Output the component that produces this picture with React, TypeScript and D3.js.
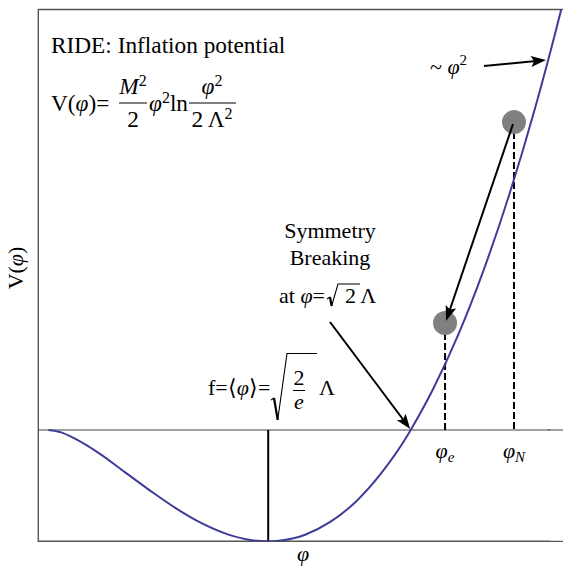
import React from "react";
import * as d3 from "d3";

// curve V(φ) (φ in units of Λ, V in units of M²Λ²)
const phiSamples = [0, 0.05, 0.1, 0.2, 0.3, 0.4, 0.5, 0.6, 0.7, 0.8, 0.858, 0.9, 1.0, 1.1, 1.2, 1.3, 1.4, 1.414, 1.5, 1.6, 1.7, 1.8, 1.9, 2.0, 2.05];
const vSamples = [0, -0.008, -0.027, -0.078, -0.14, -0.202, -0.26, -0.309, -0.345, -0.365, -0.368, -0.366, -0.347, -0.304, -0.237, -0.142, -0.02, 0, 0.133, 0.316, 0.532, 0.782, 1.066, 1.386, 1.56];

// field positions (balls)
const fieldNames = ["N", "e"];
const fieldPhi = [1.817, 1.548];
const fieldV = [1.018, 0.354];

// special points
const vacuumPhi = 0.858;
const vacuumV = -0.368;
const breakingPhi = 1.414;

const FONT = "Liberation Serif";
const FS = 22;
const FT = 23.3;

function Radical({ x, yTop, yBottom, yTick, w, barEnd }: { x: number; yTop: number; yBottom: number; yTick: number; w: number; barEnd: number }) {
  const xb = x + w * 0.42;
  return (
    <g fill="none" stroke="#000">
      <path d={`M${x},${yTick + 2} L${x + 3},${yTick}`} strokeWidth={1.1} />
      <path d={`M${x + 3},${yTick} L${xb},${yBottom}`} strokeWidth={2.2} />
      <path d={`M${xb},${yBottom} L${x + w},${yTop} L${barEnd},${yTop}`} strokeWidth={1.1} />
    </g>
  );
}

function arrowHead(x1: number, y1: number, x2: number, y2: number) {
  const a = Math.atan2(y2 - y1, x2 - x1);
  const c = Math.cos(a), s = Math.sin(a);
  const p = (dx: number, dy: number) => `${x2 + dx * c - dy * s},${y2 + dx * s + dy * c}`;
  return `M${p(0, 0)} L${p(-15, -5.5)} L${p(-12, 0)} L${p(-15, 5.5)} Z`;
}

function Arrow({ x1, y1, x2, y2 }: { x1: number; y1: number; x2: number; y2: number }) {
  const a = Math.atan2(y2 - y1, x2 - x1);
  return (
    <g>
      <line x1={x1} y1={y1} x2={x2 - 10 * Math.cos(a)} y2={y2 - 10 * Math.sin(a)} stroke="#000" strokeWidth={2} />
      <path d={arrowHead(x1, y1, x2, y2)} fill="#000" />
    </g>
  );
}

function T(props: any) {
  return <text fontFamily={FONT} fontSize={FS} fill="#000" {...props} />;
}

export default function App() {
  const W = 563;
  const H = 567;
  const x = d3.scaleLinear().domain([0, breakingPhi]).range([48.3, 410.7]);
  const y = d3.scaleLinear().domain([vacuumV, 0]).range([541.3, 430]);
  const frameLeft = 38.3;
  const frameTop = 9.5;
  const frameRight = 620;
  const frameBottom = y(vacuumV);

  const pts = phiSamples.map((p, i) => [x(p), y(vSamples[i])] as [number, number]);
  const line = d3.line().curve(d3.curveMonotoneX);
  const curvePath = line(pts) || "";

  const ballR = 12;
  const bN = [x(fieldPhi[0]), y(fieldV[0])];
  const bE = [x(fieldPhi[1]), y(fieldV[1])];

  const ital = { fontStyle: "italic" as const };

  return (
    <svg width={W} height={H} style={{ position: "absolute", left: 0, top: 0, background: "#fff" }}>
      <defs>
        <clipPath id="frameClip">
          <rect x={frameLeft} y={frameTop} width={600} height={frameBottom - frameTop} />
        </clipPath>
      </defs>

      {/* frame (left, top, bottom) */}
      <path d={`M${frameRight},${frameTop} L${frameLeft},${frameTop} L${frameLeft},${frameBottom} L${frameRight},${frameBottom}`} fill="none" stroke="#555" strokeWidth={1.4} />
      {/* V = 0 axis */}
      <line x1={frameLeft} x2={frameRight} y1={y(0)} y2={y(0)} stroke="#444" strokeWidth={1.2} />

      {/* vacuum marker */}
      <line x1={x(vacuumPhi)} x2={x(vacuumPhi)} y1={y(0)} y2={y(vacuumV)} stroke="#000" strokeWidth={2} />

      {/* dashed lines */}
      <line x1={bN[0]} x2={bN[0]} y1={bN[1]} y2={y(0)} stroke="#000" strokeWidth={2} strokeDasharray="7,3" />
      <line x1={bE[0]} x2={bE[0]} y1={bE[1]} y2={y(0)} stroke="#000" strokeWidth={2} strokeDasharray="7,3" />

      {/* balls */}
      <circle cx={bN[0]} cy={bN[1]} r={ballR} fill="#808080" />
      <circle cx={bE[0]} cy={bE[1]} r={ballR} fill="#808080" />

      {/* curve */}
      <path d={curvePath} fill="none" stroke="#3d3d99" strokeWidth={2} clipPath="url(#frameClip)" />

      {/* arrows */}
      <Arrow x1={bN[0] - 1} y1={bN[1] + 2} x2={bE[0] + 1} y2={bE[1] - 2} />
      <Arrow x1={484} y1={66} x2={546} y2={60} />
      <Arrow x1={330} y1={322} x2={x(breakingPhi) - 0.5} y2={y(0) - 1} />

      {/* title & formula */}
      <T x={51} y={53} fontSize={FT}>RIDE: Inflation potential</T>
      <T x={51} y={111} fontSize={FT}>V(<tspan {...ital}>φ</tspan>)=</T>
      <line x1={119} x2={147} y1={103} y2={103} stroke="#000" strokeWidth={1} />
      <T x={133} y={94} fontSize={FT} textAnchor="middle"><tspan {...ital}>M</tspan><tspan fontSize={16} dy={-8}>2</tspan></T>
      <T x={133} y={127} fontSize={FT} textAnchor="middle">2</T>
      <T x={149} y={111} fontSize={FT}><tspan {...ital}>φ</tspan><tspan fontSize={16} dy={-8}>2</tspan><tspan dy={8}>ln</tspan></T>
      <line x1={189} x2={236} y1={103} y2={103} stroke="#000" strokeWidth={1} />
      <T x={212} y={94} fontSize={FT} textAnchor="middle"><tspan {...ital}>φ</tspan><tspan fontSize={16} dy={-8}>2</tspan></T>
      <T x={212} y={127} fontSize={FT} textAnchor="middle">2 Λ<tspan fontSize={16} dy={-8}>2</tspan></T>

      {/* ~ φ² */}
      <T x={430} y={74}>~ <tspan {...ital}>φ</tspan><tspan fontSize={15} dy={-9}>2</tspan></T>

      {/* symmetry breaking */}
      <T x={330} y={238} textAnchor="middle">Symmetry</T>
      <T x={330} y={265} textAnchor="middle">Breaking</T>
      <T x={279} y={303}>at <tspan {...ital}>φ</tspan>=</T>
      <Radical x={327} yTop={284} yBottom={306} yTick={297} w={11} barEnd={360} />
      <T x={345} y={303}>2 Λ</T>

      {/* vacuum label */}
      <T x={208} y={395}>f=⟨<tspan {...ital}>φ</tspan>⟩=</T>
      <Radical x={271} yTop={353.5} yBottom={420} yTick={398} w={16} barEnd={317} />
      <line x1={293} x2={305} y1={390.5} y2={390.5} stroke="#000" strokeWidth={1} />
      <T x={299} y={385} textAnchor="middle">2</T>
      <T x={299} y={409} textAnchor="middle" {...ital}>e</T>
      <T x={319} y={395}>Λ</T>

      {/* field labels */}
      {fieldNames.map((n, i) => (
        <T key={n} x={x(fieldPhi[i])} y={458} textAnchor="middle" {...ital}>
          φ<tspan fontSize={15} dy={4}>{n}</tspan>
        </T>
      ))}

      {/* axis labels */}
      <T x={303} y={561} textAnchor="middle" {...ital}>φ</T>
      <T transform="translate(23,268) rotate(-90)" textAnchor="middle">V(<tspan {...ital}>φ</tspan>)</T>

      {/* keep the open right side clean */}
      <rect x={550} y={80} width={20} height={460.5} fill="#fff" />
      <line x1={548} x2={frameRight} y1={y(0)} y2={y(0)} stroke="#444" strokeWidth={1.2} />
    </svg>
  );
}
